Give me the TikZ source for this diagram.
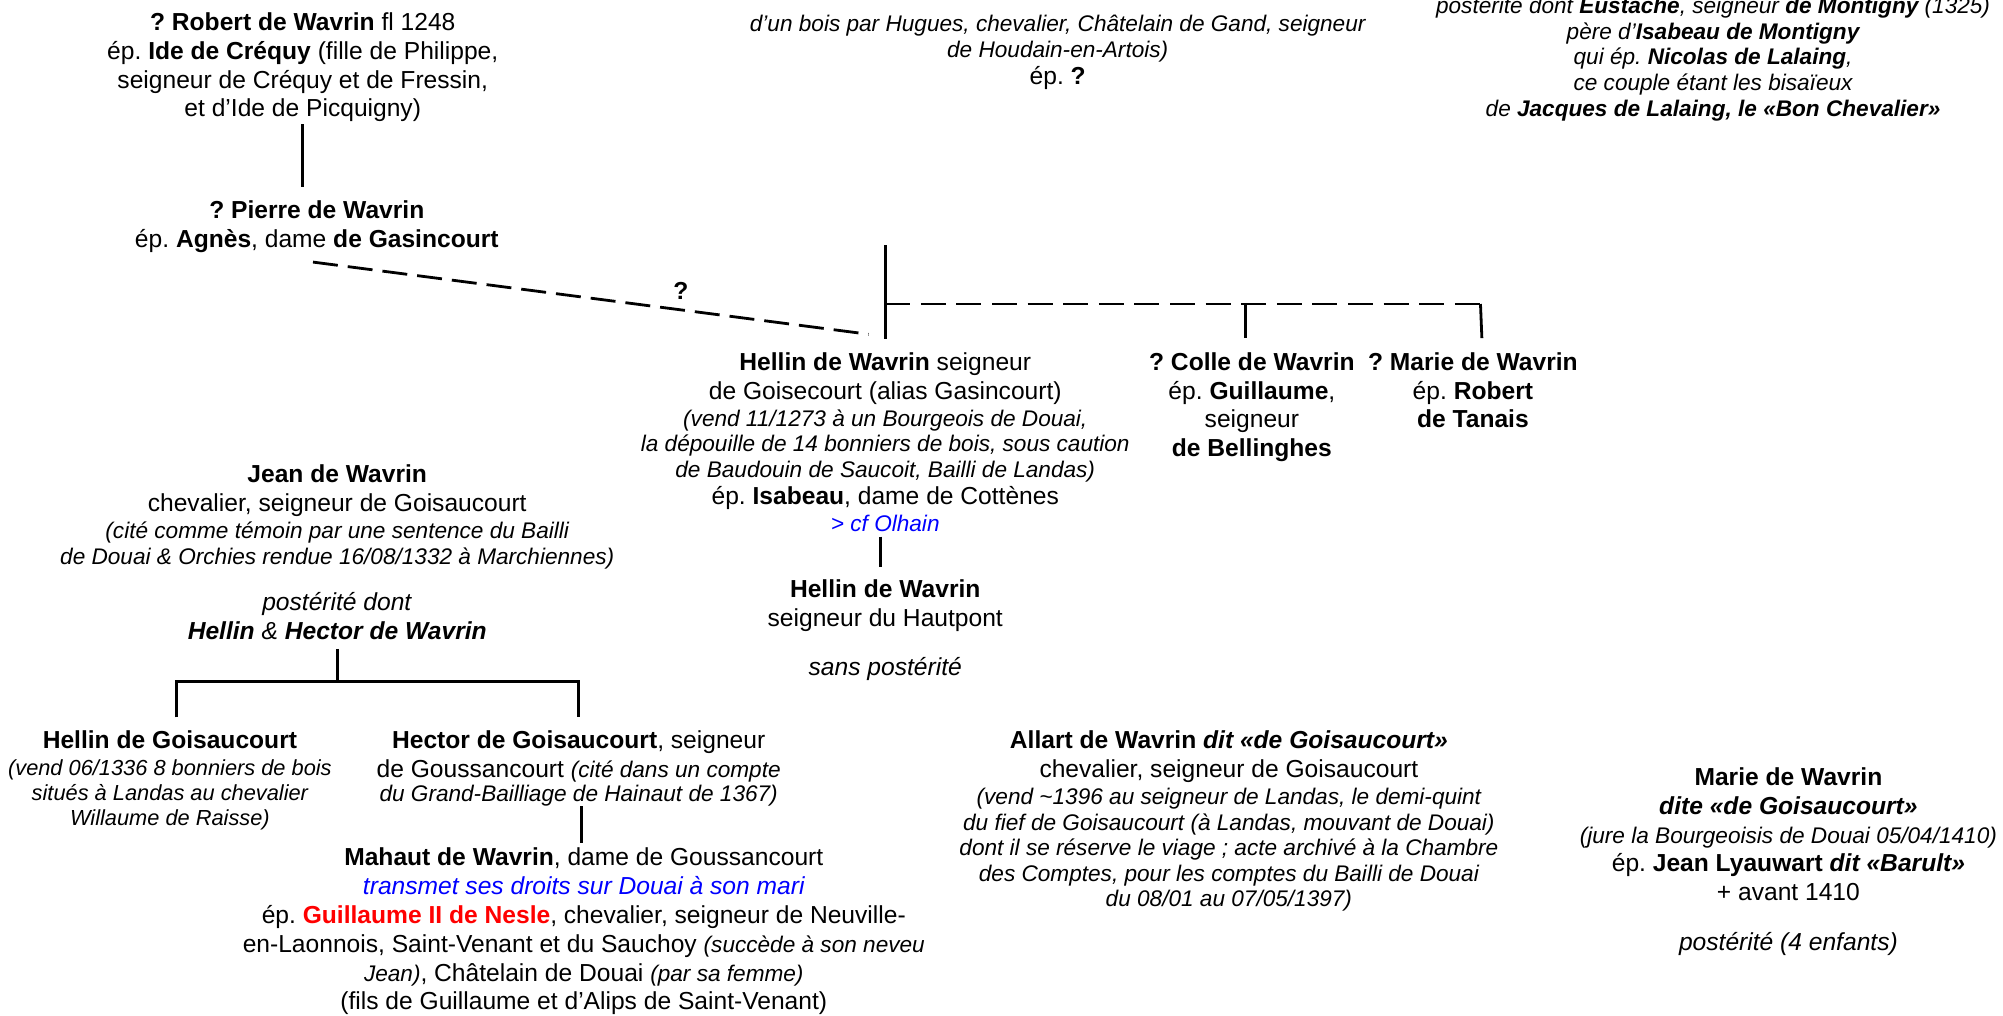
\documentclass[tikz,border=0pt]{standalone}
\usepackage{fontspec}
\setmainfont{Liberation Sans}
\frenchspacing
\newcommand\smi{\fontsize{11.3}{12.8}\selectfont\itshape}
\newcommand\smii{\fontsize{10.9}{12.4}\selectfont\itshape}
\begin{document}
\begin{tikzpicture}[x={(0.6387pt,0)}, y={(0,-0.6387pt)},
  person/.style={align=center, inner sep=0pt, anchor=north, font=\fontsize{12.3}{14.4}\selectfont\frenchspacing},
  tree/.style={line width=1.4pt},
  dashline/.style={line width=1.4pt, dash pattern=on 12.5pt off 5pt},
  hdash/.style={line width=1.4pt, dash pattern=on 12.5pt off 5.3pt}]
\useasboundingbox (0,0) rectangle (1568,795);

\node[person] (robert) at (237,9.6) {\textbf{? Robert de Wavrin} fl 1248\\
ép. \textbf{Ide de Créquy} (fille de Philippe,\\
seigneur de Créquy et de Fressin,\\
et d’Ide de Picquigny)};

\node[person] (pierre) at (248,156.6) {\textbf{? Pierre de Wavrin}\\ ép. \textbf{Agnès}, dame \textbf{de Gasincourt}};

\node[person] (topc) at (828,11.4) {\smi d’un bois par Hugues, chevalier, Châtelain de Gand, seigneur\\[-1.6pt]
\smi de Houdain-en-Artois)\\[-0.8pt]
ép. \textbf{?}};

\node[person] (topr) at (1341,-2.6) {\smi postérité dont \textbf{Eustache}, seigneur \textbf{de Montigny} (1325)\\[-1.6pt]
\smi père d’\textbf{Isabeau de Montigny}\\[-1.6pt]
\smi qui ép. \textbf{Nicolas de Lalaing},\\[-1.6pt]
\smi ce couple étant les bisaïeux\\[-1.6pt]
\smi de \textbf{Jacques de Lalaing, le «Bon Chevalier»}};

\node[person] (hellin) at (693,275.6) {\textbf{Hellin de Wavrin} seigneur\\
de Goisecourt (alias Gasincourt)\\[-0.8pt]
\smi (vend 11/1273 à un Bourgeois de Douai,\\[-1.6pt]
\smi la dépouille de 14 bonniers de bois, sous caution\\[-1.6pt]
\smi de Baudouin de Saucoit, Bailli de Landas)\\[-0.8pt]
ép. \textbf{Isabeau}, dame de Cottènes\\[-0.8pt]
\smi\color{blue} > cf Olhain};

\node[person] (colle) at (980,275.6) {\textbf{? Colle de Wavrin}\\ ép. \textbf{Guillaume},\\ seigneur\\ \textbf{de Bellinghes}};
\node[person] (marie) at (1153,275.6) {\textbf{? Marie de Wavrin}\\ ép. \textbf{Robert}\\ \textbf{de Tanais}};

\node[person] (hellin2) at (693,453.6) {\textbf{Hellin de Wavrin}\\ seigneur du Hautpont\\[10pt] \textit{sans postérité}};

\node[person] (jean) at (264,363.6) {\textbf{Jean de Wavrin}\\
chevalier, seigneur de Goisaucourt\\[-0.8pt]
\smi (cité comme témoin par une sentence du Bailli\\[-1.6pt]
\smi de Douai \& Orchies rendue 16/08/1332 à Marchiennes)\\[8.6pt]
\textit{postérité dont}\\
\textit{\textbf{Hellin} \& \textbf{Hector de Wavrin}}};

\node[person] (hgois) at (133,571.6) {\textbf{Hellin de Goisaucourt}\\[-0.8pt]
\smii (vend 06/1336 8 bonniers de bois\\[-2pt]
\smii situés à Landas au chevalier\\[-2pt]
\smii Willaume de Raisse)};

\node[person] (hector) at (453,571.6) {\textbf{Hector de Goisaucourt}, seigneur\\
de Goussancourt {\smi (cité dans un compte}\\[-2.5pt]
\smi du Grand-Bailliage de Hainaut de 1367)};

\node[person] (mahaut) at (457,663.6) {\textbf{Mahaut de Wavrin}, dame de Goussancourt\\
\textit{\color{blue}transmet ses droits sur Douai à son mari}\\
ép. \textbf{\color{red}Guillaume II de Nesle}, chevalier, seigneur de Neuville-\\
en-Laonnois, Saint-Venant et du Sauchoy {\smi (succède à son neveu}\\
{\smi Jean)}, Châtelain de Douai {\smi (par sa femme)}\\
(fils de Guillaume et d’Alips de Saint-Venant)};

\node[person] (allart) at (962,571.6) {\textbf{Allart de Wavrin \textit{dit «de Goisaucourt»}}\\
chevalier, seigneur de Goisaucourt\\[-0.8pt]
\smi (vend \textasciitilde1396 au seigneur de Landas, le demi-quint\\[-1.6pt]
\smi du fief de Goisaucourt (à Landas, mouvant de Douai)\\[-1.6pt]
\smi dont il se réserve le viage ; acte archivé à la Chambre\\[-1.6pt]
\smi des Comptes, pour les comptes du Bailli de Douai\\[-1.6pt]
\smi du 08/01 au 07/05/1397)};

\node[person] (marieg) at (1400,600.6) {\textbf{Marie de Wavrin}\\
\textit{\textbf{dite «de Goisaucourt»}}\\
\smi (jure la Bourgeoisis de Douai 05/04/1410)\\
ép. \textbf{Jean Lyauwart \textit{dit «Barult»}}\\
+ avant 1410\\[10.5pt]
\textit{postérité (4 enfants)}};

% connectors
\draw[tree] ([yshift=-1pt]robert.south) -- ([yshift=6.4pt]robert.south |- pierre.north);

\draw[dashline] ([xshift=-1.9pt,yshift=-4.7pt]pierre.south) --
  node[pos=0.662, above=4.5pt, inner sep=0pt, font=\bfseries\fontsize{12.3}{14}\selectfont] (q) {?}
  ([xshift=-8.3pt,yshift=8.9pt]hellin.north);

\coordinate (htop) at (693,192);
\coordinate (hj) at (693,238);
\coordinate (ct) at ([xshift=-3.2pt]colle.north);
\coordinate (mt) at ([xshift=4.5pt]marie.north);
\draw[tree] (htop) -- ([yshift=6.4pt]hellin.north);
\draw[hdash] (hj) -- (hj -| mt);
\draw[tree] (hj -| ct) -- ([yshift=7pt]ct);
\draw[tree] ([xshift=-0.7pt]hj -| mt) -- ([yshift=7pt]mt);

\draw[tree] ([xshift=-2.5pt,yshift=-2pt]hellin.south) -- ([xshift=-2.5pt,yshift=6.4pt]hellin.south |- hellin2.north);

\coordinate (jbar) at ([yshift=-21pt]jean.south);
\draw[tree] ([yshift=-4.5pt]jean.south) -- (jbar);
\draw[tree] ([xshift=3.2pt,yshift=6.4pt]hgois.north) |- (jbar) -| ([yshift=6.4pt]hector.north);

\draw[tree] ([xshift=1.3pt]hector.south) -- ([xshift=1.3pt,yshift=2.3pt]hector.south |- mahaut.north);
\end{tikzpicture}
\end{document}
